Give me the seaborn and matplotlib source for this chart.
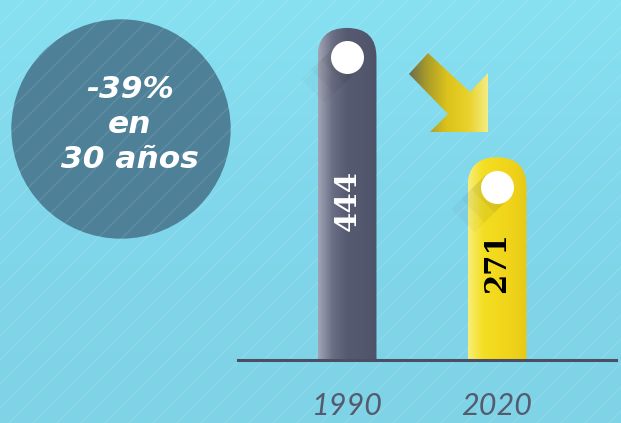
import numpy as np
import pandas as pd
import matplotlib
matplotlib.use("Agg")
import matplotlib.pyplot as plt
import seaborn as sns
from matplotlib.patches import FancyBboxPatch, Circle, Polygon
from matplotlib.colors import LinearSegmentedColormap
from matplotlib.transforms import IdentityTransform

years = ["1990", "2020"]
counts = [444, 271]
count_labels = ["444", "271"]
summary_lines = ["-39%", "en", "30 años"]

bar_ramps = [["#a2a5b6", "#6a6e84", "#565a71", "#54586f", "#4f5369"],
             ["#f8ee7a", "#f4df24", "#f2d91c", "#efd31a", "#e6c918"]]
value_colors = ["white", "black"]

BG = "#80d8eb"
W, H = 621, 423

sns.set_theme(style="white")
plt.rcParams["font.family"] = ["DejaVu Sans"]

fig = plt.figure(figsize=(W / 100, H / 100), dpi=100)
fig.patch.set_facecolor(BG)

# decoration layer in pixel coordinates
deco = fig.add_axes([0, 0, 1, 1])
deco.axis("off")
bg_cmap = LinearSegmentedColormap.from_list("bg", ["#87e1f1", "#80d6ea", "#7fd3e6"])
deco.imshow(np.linspace(0, 1, 200).reshape(-1, 1), extent=(0, W, H, 0),
            cmap=bg_cmap, aspect="auto", zorder=0)

deco.add_patch(Circle((121, 129), 109, color="#4e8097", zorder=2))
for c in np.arange(-H, W + H, 24):
    deco.plot([c, c + H], [H, 0], color="white", alpha=0.10, lw=1.1, zorder=3)

for i, line in enumerate(summary_lines):
    deco.text(130, 98 + i * 35, line, ha="center", va="baseline", fontsize=22.5,
              fontweight="bold", style="italic", color="white", zorder=4)

# arrow between the bars
arrow = Polygon([(409, 74), (428, 53), (470, 92), (488, 73), (488, 132),
                 (430, 132), (448, 114)], closed=True, fc="none", ec="none")
deco.add_patch(arrow)
arrow_cmap = LinearSegmentedColormap.from_list(
    "arr", ["#5c6158", "#a89a2a", "#dcc31c", "#e8d22c", "#f7ef8c"])
im = deco.imshow(np.linspace(0, 1, 256).reshape(1, -1), extent=(405, 490, 135, 50),
                 cmap=arrow_cmap, aspect="auto", zorder=4)
im.set_clip_path(arrow)
deco.set_xlim(0, W)
deco.set_ylim(H, 0)

# bar chart
ax = fig.add_axes([237.5 / W, (H - 360) / H, 378 / W, 359 / H])
ax.patch.set_alpha(0)
df = pd.DataFrame({"year": years, "count": counts})
sns.barplot(data=df, x="year", y="count", ax=ax, width=0.393, color="#555a70")
xlim, ylim = (-0.73, 1.79), (0, 480)
ax.set_xlim(*xlim)
ax.set_ylim(*ylim)

bb = ax.get_window_extent()
px_x = bb.width / (xlim[1] - xlim[0])
px_y = bb.height / (ylim[1] - ylim[0])
dot_r = 16.5  # px

for i, p in enumerate(list(ax.patches)):
    x0, w, h = p.get_x(), p.get_width(), p.get_height()
    p.set_visible(False)
    r_x = w / 2
    r_y = r_x * px_x / px_y
    shape = FancyBboxPatch((x0, -100), w, h + 100,
                           boxstyle=f"round,pad=0,rounding_size={r_x}",
                           mutation_aspect=px_x / px_y, fc="none", ec="none")
    ax.add_patch(shape)
    cmap = LinearSegmentedColormap.from_list(f"bar{i}", bar_ramps[i])
    g = ax.imshow(np.linspace(0, 1, 256).reshape(1, -1), extent=(x0, x0 + w, 0, h),
                  cmap=cmap, aspect="auto", zorder=2)
    g.set_clip_path(shape)
    xc = x0 + w / 2
    # soft long shadow of the dot, in display pixels
    cx, cy = ax.transData.transform((xc, h - r_y))
    k = dot_r / np.sqrt(2)
    for L, a in [(20, 0.05), (34, 0.04), (48, 0.03)]:
        d = L / np.sqrt(2)
        shadow = Polygon([(cx + k, cy - k), (cx - k, cy + k),
                          (cx - k - d, cy + k - d), (cx + k - d, cy - k - d)],
                         closed=True, transform=IdentityTransform(), fc="#2a2a20",
                         ec="none", alpha=a, zorder=3)
        ax.add_patch(shadow)
    ax.scatter([xc], [h - r_y], s=(2 * dot_r * 0.72) ** 2, color="white",
               linewidths=0, zorder=5)
    ax.text(xc, h * 0.48, count_labels[i], rotation=90, ha="center", va="center",
            fontsize=21, fontweight="bold", family=["DejaVu Serif"],
            color=value_colors[i], zorder=6)

ax.set_xlim(*xlim)
ax.set_ylim(*ylim)
ax.set_xlabel("")
ax.set_ylabel("")
ax.set_yticks([])
for s in ["left", "right", "top"]:
    ax.spines[s].set_visible(False)
ax.spines["bottom"].set_color("#4b4f66")
ax.spines["bottom"].set_linewidth(2.2)
ax.spines["bottom"].set_zorder(3)
ax.tick_params(axis="x", length=0, pad=23)
for t in ax.get_xticklabels():
    t.set_fontfamily(["Lato", "DejaVu Sans"])
    t.set_fontweight("normal")
    t.set_fontstyle("italic")
    t.set_fontsize(22)
    t.set_color("#555a6e")

fig.savefig("out.png", dpi=100, facecolor=fig.get_facecolor())
